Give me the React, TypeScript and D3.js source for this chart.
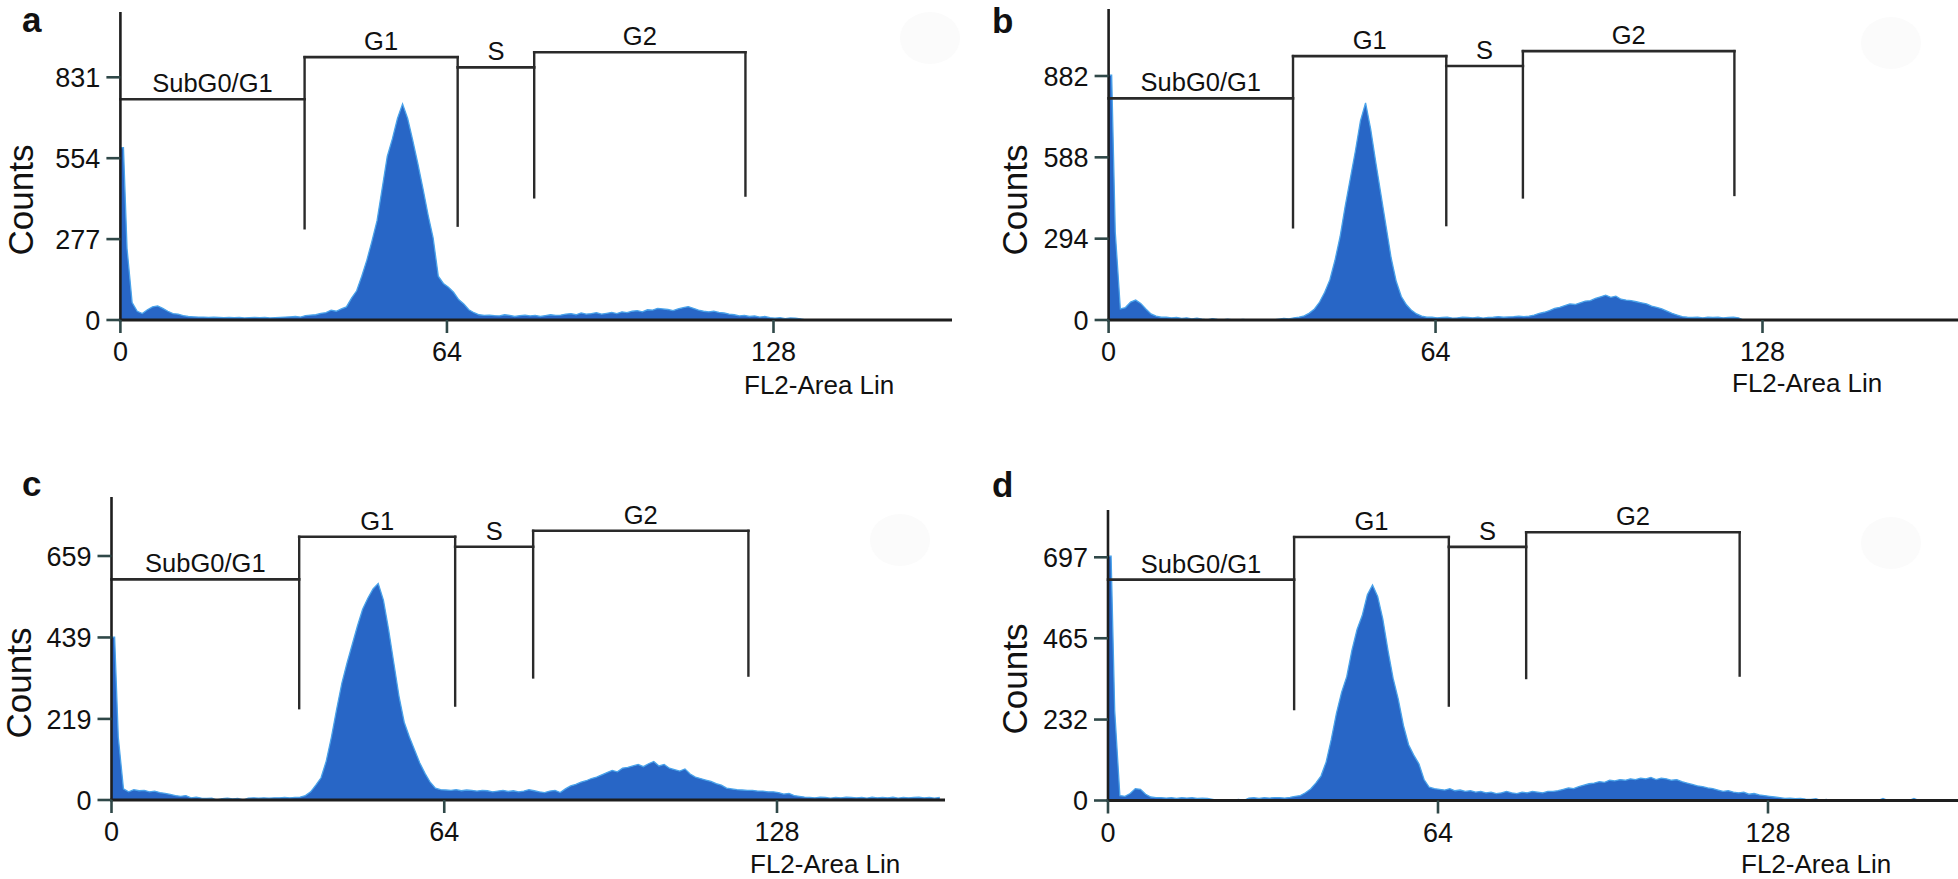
import React from "react";
import * as d3 from "d3";

// ---------------- data ----------------
const xTickValues = [0, 64, 128];
const gateNames = ["SubG0/G1", "G1", "S", "G2"];
const gateEdges = [0, 36.1, 66.1, 81.1, 122.5];
const xLabel = "FL2-Area Lin";
const yLabel = "Counts";

const aYTicks = [0, 277, 554, 831];
const bYTicks = [0, 294, 588, 882];
const cYTicks = [0, 219, 439, 659];
const dYTicks = [0, 232, 465, 697];

// counts per 1-unit channel, starting at channel 0
const aCounts = [
  590, 245, 60, 30, 22, 35, 45, 48, 40, 30,
  22, 20, 15, 12, 11, 10, 10, 9, 10, 9,
  8, 9, 8, 9, 7, 8, 9, 8, 9, 7,
  8, 9, 10, 11, 12, 10, 15, 17, 18, 23,
  25, 34, 30, 38, 45, 75, 100, 150, 205, 270,
  340, 450, 560, 620, 690, 740, 690, 615, 535, 450,
  360, 280, 150, 125, 112, 95, 70, 55, 35, 25,
  18, 16, 17, 15, 14, 18, 16, 12, 15, 17,
  14, 16, 12, 15, 18, 16, 17, 20, 22, 18,
  24, 20, 22, 25, 20, 23, 26, 22, 28, 25,
  30, 32, 28, 35, 34, 40, 38, 36, 32, 38,
  42, 46, 40, 34, 30, 28, 30, 26, 24, 20,
  18, 14, 16, 12, 14, 10, 12, 8, 6, 8,
  5, 7, 6, 4, 0,
];
const bCounts = [
  885, 320, 40, 45, 65, 72, 60, 40, 22, 14,
  10, 10, 8, 9, 6, 8, 4, 7, 3, 0,
  5, 2, 0, 3, 0, 0, 2, 0, 0, 0,
  0, 0, 0, 3, 6, 4, 8, 10, 15, 25,
  40, 65, 100, 145, 215, 300, 410, 510, 610, 720,
  785, 690, 570, 455, 340, 225, 140, 85, 55, 35,
  22, 14, 10, 10, 8, 9, 10, 7, 8, 10,
  9, 8, 10, 7, 9, 10, 12, 10, 11, 12,
  14, 12, 14, 18, 24, 28, 34, 42, 46, 52,
  58, 56, 62, 68, 70, 78, 84, 90, 82, 86,
  75, 72, 70, 66, 62, 58, 50, 46, 40, 32,
  24, 18, 12, 10, 9, 10, 8, 10, 9, 10,
  8, 9, 10, 8, 0,
];
const cCounts = [
  440, 170, 30, 22, 28, 25, 26, 22, 24, 20,
  18, 15, 12, 10, 12, 6, 8, 5, 4, 5,
  0, 4, 5, 3, 4, 0, 5, 6, 5, 6,
  5, 6, 6, 7, 6, 7, 8, 12, 22, 40,
  60, 105, 170, 245, 315, 370, 420, 470, 515, 545,
  570, 585, 540, 460, 370, 280, 210, 170, 135, 100,
  72, 48, 32, 28, 27, 26, 28, 25, 27, 26,
  24, 26, 25, 22, 24, 26, 23, 25, 22, 24,
  28, 25, 22, 20, 24, 26, 20, 30, 38, 42,
  48, 52, 58, 62, 68, 74, 80, 76, 86, 88,
  92, 96, 90, 98, 104, 92, 96, 86, 82, 78,
  84, 70, 62, 58, 54, 50, 44, 40, 32, 30,
  28, 27, 26, 26, 24, 24, 22, 22, 20, 16,
  18, 12, 10, 8, 7, 6, 8, 7, 5, 7,
  6, 8, 7, 6, 7, 5, 8, 6, 7, 6,
  8, 5, 7, 6, 7, 8, 6, 7, 5, 7,
];
const dCounts = [
  700, 258, 14, 12, 20, 34, 32, 18, 10, 8,
  8, 7, 8, 6, 8, 7, 8, 6, 7, 6,
  3, 0, 2, 0, 0, 3, 0, 7, 8, 6,
  8, 7, 8, 8, 7, 9, 12, 14, 22, 33,
  50, 70, 110, 175, 250, 310, 355, 430, 490, 530,
  590, 618, 585, 520, 430, 350, 290, 215, 160, 130,
  105, 60, 38, 34, 32, 30, 34, 28, 30, 26,
  28, 24, 26, 22, 24, 20, 22, 26, 22, 20,
  24, 22, 26, 24, 22, 26, 26, 28, 32, 36,
  34, 40, 44, 48, 50, 54, 52, 58, 56, 60,
  58, 62, 60, 64, 62, 66, 60, 64, 62, 58,
  60, 54, 50, 46, 42, 40, 36, 34, 30, 26,
  28, 24, 22, 24, 18, 20, 16, 14, 12, 10,
  8, 6, 7, 5, 6, 4, 3, 5, 0, 3,
  0, 0, 2, 0, 0, 0, 0, 0, 0, 0,
  6, 0, 0, 0, 0, 0, 6, 0,
];

// gate marker levels (counts) for SubG0/G1, G1, S, G2 and lower ends of the vertical lines
const aGateLevels = [756, 900, 865, 917];
const aGateDrops = [314, 323, 420, 426];
const bGateLevels = [801, 954, 918, 972];
const bGateDrops = [335, 343, 443, 452];
const cGateLevels = [596, 711, 684, 727];
const cGateDrops = [248, 255, 331, 336];
const dGateLevels = [633, 755, 727, 769];
const dGateDrops = [262, 272, 351, 358];

// ---------------- layout ----------------
const FONT = "'Liberation Sans', Arial, Helvetica, sans-serif";
const FILL = "#2866c6";
const EDGE = "#4aa3ea";
const AXIS = "#1e1e1e";
const GATE = "#2a2a2a";
const TICK = "#2f4848";

const panels = [
  {
    letter: "a", yTicks: aYTicks, counts: aCounts, levels: aGateLevels, drops: aGateDrops,
    x0: 120.4, x128: 773.5, yBase: 320, yTopTick: 77.3, axisTop: 12, axisRight: 952,
    letterX: 22, letterY: 32, countsX: 33, countsY: 200, flX: 744, flY: 394, blob: [930, 38],
  },
  {
    letter: "b", yTicks: bYTicks, counts: bCounts, levels: bGateLevels, drops: bGateDrops,
    x0: 1108.6, x128: 1762.5, yBase: 320, yTopTick: 76, axisTop: 9, axisRight: 1958,
    letterX: 992, letterY: 33, countsX: 1027, countsY: 200, flX: 1732, flY: 392, blob: [1891, 43],
  },
  {
    letter: "c", yTicks: cYTicks, counts: cCounts, levels: cGateLevels, drops: cGateDrops,
    x0: 111.5, x128: 777, yBase: 800, yTopTick: 556, axisTop: 497, axisRight: 945,
    letterX: 22, letterY: 496, countsX: 31, countsY: 683, flX: 750, flY: 873, blob: [900, 540],
  },
  {
    letter: "d", yTicks: dYTicks, counts: dCounts, levels: dGateLevels, drops: dGateDrops,
    x0: 1108, x128: 1768, yBase: 800.5, yTopTick: 557.3, axisTop: 510, axisRight: 1958,
    letterX: 992, letterY: 497, countsX: 1027, countsY: 679, flX: 1741, flY: 873, blob: [1891, 543],
  },
];

type P = (typeof panels)[number];

function Panel({ p }: { p: P }) {
  const x = d3.scaleLinear().domain([0, 128]).range([p.x0, p.x128]);
  const topTick = p.yTicks[p.yTicks.length - 1];
  const y = d3.scaleLinear().domain([0, topTick]).range([p.yBase, p.yTopTick]);

  // channel 0 is drawn as a narrow bar at the axis, later channels joined linearly
  const pts = p.counts.map((v, i) => ({ u: i === 0 ? 0 : i + 0.3, v }));
  pts.splice(1, 0, { u: 0.6, v: p.counts[0] });

  const area = d3
    .area<{ u: number; v: number }>()
    .x((d) => x(d.u))
    .y0(p.yBase)
    .y1((d) => y(d.v))
    .curve(d3.curveLinear);
  const line = d3
    .line<{ u: number; v: number }>()
    .x((d) => x(d.u))
    .y((d) => y(d.v))
    .curve(d3.curveLinear);

  const L = p.levels;
  const verticals = [1, 2, 3, 4].map((k) => {
    const top = k < 4 ? Math.max(L[k - 1], L[k]) : L[3];
    return { xv: x(gateEdges[k]), y1: y(top), y2: y(p.drops[k - 1]) };
  });

  return (
    <g>
      <ellipse cx={p.blob[0]} cy={p.blob[1]} rx={30} ry={26} fill="#fbfbfb" />
      <path d={area(pts) || ""} fill={FILL} />
      <path d={line(pts) || ""} fill="none" stroke={EDGE} strokeWidth={1.3} />

      {/* gates */}
      {gateNames.map((name, i) => {
        const xa = x(gateEdges[i]);
        const xb = x(gateEdges[i + 1]);
        const yy = y(L[i]);
        return (
          <g key={name}>
            <line x1={xa} x2={xb} y1={yy} y2={yy} stroke={GATE} strokeWidth={2.6} strokeLinecap="square" />
            <text
              x={(xa + xb) / 2}
              y={yy - 7}
              textAnchor="middle"
              fontFamily={FONT}
              fontSize={25.5}
              fill="#111"
            >
              {name}
            </text>
          </g>
        );
      })}
      {verticals.map((v, i) => (
        <line key={i} x1={v.xv} x2={v.xv} y1={v.y1} y2={v.y2} stroke={GATE} strokeWidth={2.4} strokeLinecap="square" />
      ))}

      {/* axes */}
      <line x1={p.x0} x2={p.x0} y1={p.axisTop} y2={p.yBase + 1.5} stroke={AXIS} strokeWidth={2.6} />
      <line x1={p.x0 - 1.5} x2={p.axisRight} y1={p.yBase} y2={p.yBase} stroke={AXIS} strokeWidth={3} />

      {p.yTicks.map((t) => (
        <g key={t}>
          <line x1={p.x0 - 14} x2={p.x0} y1={y(t)} y2={y(t)} stroke={TICK} strokeWidth={2.6} />
          <text
            x={p.x0 - 20}
            y={y(t)}
            dy="0.36em"
            textAnchor="end"
            fontFamily={FONT}
            fontSize={27}
            fill="#111"
          >
            {t}
          </text>
        </g>
      ))}
      {xTickValues.map((t) => (
        <g key={t}>
          <line x1={x(t)} x2={x(t)} y1={p.yBase} y2={p.yBase + 13} stroke={TICK} strokeWidth={2.6} />
          <text x={x(t)} y={p.yBase + 41} textAnchor="middle" fontFamily={FONT} fontSize={27} fill="#111">
            {t}
          </text>
        </g>
      ))}

      <text x={p.flX} y={p.flY} fontFamily={FONT} fontSize={26} fill="#111">
        {xLabel}
      </text>
      <text
        transform={`translate(${p.countsX},${p.countsY}) rotate(-90)`}
        textAnchor="middle"
        fontFamily={FONT}
        fontSize={35}
        fill="#111"
      >
        {yLabel}
      </text>
      <text x={p.letterX} y={p.letterY} fontFamily={FONT} fontSize={35} fontWeight="bold" fill="#111">
        {p.letter}
      </text>
    </g>
  );
}

export default function App() {
  return (
    <svg
      width={1958}
      height={879}
      viewBox="0 0 1958 879"
      style={{ position: "absolute", left: 0, top: 0, background: "#fff", display: "block" }}
    >
      <rect width={1958} height={879} fill="#fff" />
      {panels.map((p) => (
        <Panel key={p.letter} p={p} />
      ))}
    </svg>
  );
}
